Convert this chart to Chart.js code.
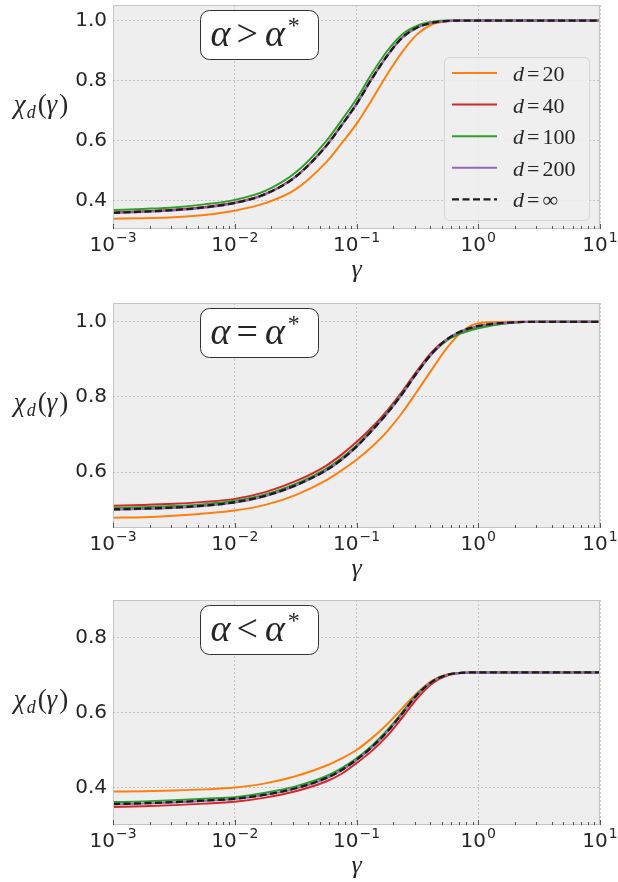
<!DOCTYPE html>
<html>
<head>
<meta charset="utf-8">
<script src="https://cdn.jsdelivr.net/npm/chart.js@4.4.1/dist/chart.umd.min.js"></script>
<style>
  html, body { margin: 0; padding: 0; background: #fff; }
  #wrap { position: relative; width: 618px; height: 882px; }
  .panel { position: absolute; left: 0; width: 618px; }
  canvas { display: block; }
</style>
</head>
<body>
<div id="wrap">
  <div class="panel" style="top:0px;height:290px"><canvas id="c1" width="618" height="290"></canvas></div>
  <div class="panel" style="top:290px;height:300px"><canvas id="c2" width="618" height="300"></canvas></div>
  <div class="panel" style="top:590px;height:292px"><canvas id="c3" width="618" height="292"></canvas></div>
</div>
<script>
// gamma grid (x)
const gammaValues = [0.001, 0.00178, 0.00316, 0.00562, 0.01, 0.0178, 0.0316, 0.0562, 0.075, 0.1, 0.133, 0.178, 0.237, 0.316, 0.422, 0.562, 0.75, 1, 1.78, 3.16, 5.62, 10];
const xTickValues = [0.001, 0.01, 0.1, 1, 10];
const xTickExponents = ['\u22123', '\u22122', '\u22121', '0', '1'];
const seriesLabels = ['20', '40', '100', '200', '\u221e'];
const seriesColors = ['#ff7f0e', '#d62728', '#2ca02c', '#9467bd', '#1c1c1c'];

// alpha > alpha*
const aboveD20 = [0.340, 0.342, 0.345, 0.353, 0.367, 0.392, 0.438, 0.528, 0.590, 0.656, 0.735, 0.820, 0.895, 0.955, 0.988, 0.998, 1.0, 1.0, 1.0, 1.0, 1.0, 1.0];
const aboveD40 = [0.361, 0.365, 0.370, 0.379, 0.394, 0.423, 0.481, 0.583, 0.651, 0.723, 0.806, 0.883, 0.944, 0.978, 0.993, 0.999, 1.0, 1.0, 1.0, 1.0, 1.0, 1.0];
const aboveD100 = [0.369, 0.373, 0.378, 0.388, 0.403, 0.433, 0.494, 0.598, 0.667, 0.739, 0.822, 0.898, 0.954, 0.983, 0.996, 1.0, 1.0, 1.0, 1.0, 1.0, 1.0, 1.0];
const aboveD200 = [0.359, 0.363, 0.368, 0.377, 0.392, 0.421, 0.479, 0.581, 0.649, 0.721, 0.804, 0.881, 0.942, 0.977, 0.993, 0.999, 1.0, 1.0, 1.0, 1.0, 1.0, 1.0];
const aboveDInf = [0.360, 0.364, 0.369, 0.378, 0.393, 0.422, 0.480, 0.582, 0.650, 0.722, 0.805, 0.882, 0.943, 0.977, 0.993, 0.999, 1.0, 1.0, 1.0, 1.0, 1.0, 1.0];

// alpha = alpha*
const equalD20 = [0.479, 0.480, 0.484, 0.490, 0.498, 0.513, 0.539, 0.578, 0.604, 0.633, 0.667, 0.708, 0.758, 0.816, 0.876, 0.933, 0.976, 0.996, 1.0, 1.0, 1.0, 1.0];
const equalD40 = [0.511, 0.513, 0.516, 0.521, 0.529, 0.547, 0.576, 0.617, 0.646, 0.680, 0.718, 0.763, 0.814, 0.871, 0.922, 0.955, 0.974, 0.985, 0.997, 1.0, 1.0, 1.0];
const equalD100 = [0.505, 0.507, 0.510, 0.515, 0.524, 0.541, 0.569, 0.609, 0.637, 0.671, 0.712, 0.758, 0.810, 0.866, 0.917, 0.952, 0.971, 0.983, 0.997, 1.0, 1.0, 1.0];
const equalD200 = [0.500, 0.502, 0.505, 0.510, 0.519, 0.536, 0.564, 0.604, 0.632, 0.667, 0.709, 0.755, 0.807, 0.865, 0.917, 0.955, 0.977, 0.989, 0.998, 1.0, 1.0, 1.0];
const equalDInf = [0.501, 0.503, 0.506, 0.511, 0.520, 0.537, 0.565, 0.605, 0.633, 0.668, 0.710, 0.756, 0.808, 0.866, 0.918, 0.955, 0.977, 0.989, 0.998, 1.0, 1.0, 1.0];

// alpha < alpha*
const belowD20 = [0.389, 0.390, 0.392, 0.395, 0.400, 0.411, 0.430, 0.458, 0.477, 0.500, 0.531, 0.568, 0.611, 0.653, 0.686, 0.702, 0.706, 0.707, 0.707, 0.707, 0.707, 0.707];
const belowD40 = [0.348, 0.350, 0.353, 0.357, 0.362, 0.373, 0.390, 0.416, 0.436, 0.465, 0.497, 0.537, 0.586, 0.638, 0.678, 0.699, 0.706, 0.707, 0.707, 0.707, 0.707, 0.707];
const belowD100 = [0.361, 0.363, 0.366, 0.370, 0.374, 0.386, 0.403, 0.430, 0.451, 0.478, 0.511, 0.552, 0.600, 0.650, 0.684, 0.701, 0.706, 0.707, 0.707, 0.707, 0.707, 0.707];
const belowD200 = [0.355, 0.357, 0.360, 0.364, 0.369, 0.380, 0.397, 0.424, 0.445, 0.473, 0.506, 0.547, 0.596, 0.647, 0.683, 0.701, 0.706, 0.707, 0.707, 0.707, 0.707, 0.707];
const belowDInf = [0.356, 0.358, 0.361, 0.365, 0.370, 0.381, 0.398, 0.425, 0.446, 0.474, 0.507, 0.548, 0.597, 0.648, 0.683, 0.701, 0.706, 0.707, 0.707, 0.707, 0.707, 0.707];

const aboveYTicks = [0.4, 0.6, 0.8, 1.0];
const equalYTicks = [0.6, 0.8, 1.0];
const belowYTicks = [0.4, 0.6, 0.8];

const panels = [
  { id: 'c1', rel: '>', series: [aboveD20, aboveD40, aboveD100, aboveD200, aboveDInf], yMin: 0.306, yMax: 1.052, yTicks: aboveYTicks, padTop: 5, xHeight: 61, legend: true },
  { id: 'c2', rel: '=', series: [equalD20, equalD40, equalD100, equalD200, equalDInf], yMin: 0.4515, yMax: 1.05, yTicks: equalYTicks, padTop: 13, xHeight: 62, legend: false },
  { id: 'c3', rel: '<', series: [belowD20, belowD40, belowD100, belowD200, belowDInf], yMin: 0.30, yMax: 0.90, yTicks: belowYTicks, padTop: 10, xHeight: 57, legend: false },
];

const TEXT = '#262626';
const SERIF = '"Liberation Serif", "DejaVu Serif", serif';
const SANS = '"DejaVu Sans", sans-serif';

function drawParts(ctx, parts, x, y, align) {
  let w = 0;
  parts.forEach(p => { ctx.font = p.font; p.w = ctx.measureText(p.t).width + (p.gap || 0); w += p.w; });
  let cx = align === 'center' ? x - w / 2 : x;
  parts.forEach(p => { ctx.font = p.font; ctx.fillText(p.t, cx, y + (p.dy || 0)); cx += p.w; });
}

function roundRect(ctx, x, y, w, h, r) {
  ctx.beginPath();
  ctx.moveTo(x + r, y);
  ctx.arcTo(x + w, y, x + w, y + h, r);
  ctx.arcTo(x + w, y + h, x, y + h, r);
  ctx.arcTo(x, y + h, x, y, r);
  ctx.arcTo(x, y, x + w, y, r);
  ctx.closePath();
}

const decor = {
  id: 'decor',
  beforeDraw(chart) {
    const { ctx, chartArea: a } = chart;
    ctx.save();
    ctx.fillStyle = '#eeeeee';
    ctx.fillRect(a.left, a.top, a.right - a.left, a.bottom - a.top);
    ctx.restore();
  },
  afterDraw(chart, args, opts) {
    const { ctx, chartArea: a } = chart;
    const xs = chart.scales.x;
    ctx.save();

    // frame
    ctx.strokeStyle = '#c4c4c4';
    ctx.lineWidth = 1;
    ctx.strokeRect(a.left + 0.5, a.top + 0.5, a.right - a.left - 1, a.bottom - a.top - 1);

    // x ticks inside the bottom edge
    ctx.strokeStyle = '#555555';
    ctx.lineWidth = 1;
    xTickValues.forEach((d, i) => {
      for (let k = 1; k <= 9; k++) {
        if (i === xTickValues.length - 1 && k > 1) break;
        const px = Math.round(xs.getPixelForValue(d * k)) + 0.5;
        const len = k === 1 ? 5 : 3;
        ctx.beginPath();
        ctx.moveTo(px, a.bottom);
        ctx.lineTo(px, a.bottom - len);
        ctx.stroke();
      }
    });

    // x tick labels 10^n
    ctx.fillStyle = TEXT;
    ctx.textBaseline = 'alphabetic';
    xTickValues.forEach((v, i) => {
      const px = xs.getPixelForValue(v);
      drawParts(ctx, [
        { t: '10', font: '20px ' + SANS, gap: 1 },
        { t: xTickExponents[i], font: '14px ' + SANS, dy: -9 },
      ], px, a.bottom + 22, 'center');
    });

    // x axis label
    drawParts(ctx, [{ t: '\u03b3', font: 'italic 26px ' + SERIF }], (a.left + a.right) / 2, a.bottom + 48, 'center');

    // y axis label chi_d(gamma)
    drawParts(ctx, [
      { t: '\u03c7', font: 'italic 27px ' + SERIF, gap: 1 },
      { t: 'd', font: 'italic 18px ' + SERIF, dy: 5, gap: 2 },
      { t: '(', font: '27px ' + SERIF },
      { t: '\u03b3', font: 'italic 27px ' + SERIF, gap: 2 },
      { t: ')', font: '27px ' + SERIF },
    ], 41, a.top + 108, 'center');

    // annotation box
    const bx = 200.5, by = a.top + 5.5, bw = 118, bh = 49;
    roundRect(ctx, bx, by, bw, bh, 9);
    ctx.fillStyle = '#ffffff';
    ctx.fill();
    ctx.strokeStyle = '#333333';
    ctx.lineWidth = 1;
    ctx.stroke();
    ctx.fillStyle = TEXT;
    drawParts(ctx, [
      { t: '\u03b1', font: 'italic 38px ' + SERIF, gap: 6 },
      { t: opts.rel, font: '38px ' + SERIF, gap: 7 },
      { t: '\u03b1', font: 'italic 38px ' + SERIF, gap: 3 },
      { t: '*', font: '24px ' + SERIF, dy: -13 },
    ], bx + 10, a.top + 41, 'left');

    // legend
    if (opts.legend) {
      const lx = 444.5, ly = a.top + 52.5, lw = 145, lh = 163;
      roundRect(ctx, lx, ly, lw, lh, 5);
      ctx.fillStyle = 'rgba(238,238,238,0.85)';
      ctx.fill();
      ctx.strokeStyle = '#d6d6d6';
      ctx.stroke();
      chart.data.datasets.forEach((ds, i) => {
        const cy = a.top + 68 + i * 31.6;
        ctx.save();
        ctx.strokeStyle = ds.borderColor;
        ctx.lineWidth = ds.borderWidth;
        ctx.setLineDash(ds.borderDash || []);
        ctx.beginPath();
        ctx.moveTo(452, cy);
        ctx.lineTo(497, cy);
        ctx.stroke();
        ctx.restore();
        ctx.fillStyle = TEXT;
        drawParts(ctx, [
          { t: 'd', font: 'italic 22px ' + SERIF, gap: 3 },
          { t: '=', font: '22px ' + SERIF, gap: 3 },
          { t: seriesLabels[i], font: '22px ' + SERIF },
        ], 513, cy + 8, 'left');
      });
    }
    ctx.restore();
  }
};

const gridStyle = { color: '#b9b9b9', lineWidth: 0.8, drawTicks: false };
const borderStyle = { display: false, dash: [2, 2] };

panels.forEach(p => {
  const datasets = p.series.map((vals, i) => ({
    label: 'd = ' + seriesLabels[i],
    data: gammaValues.map((g, j) => ({ x: g, y: vals[j] })),
    borderColor: seriesColors[i],
    borderWidth: i === 4 ? 2.3 : 2,
    borderDash: i === 4 ? [7, 3.5] : [],
    order: 5 - i,
    fill: false,
  }));
  new Chart(document.getElementById(p.id), {
    type: 'line',
    data: { datasets },
    plugins: [decor],
    options: {
      responsive: false,
      animation: false,
      devicePixelRatio: 1,
      layout: { padding: { left: 0, right: 18, top: p.padTop, bottom: 0 } },
      elements: { point: { radius: 0 }, line: { cubicInterpolationMode: 'monotone' } },
      plugins: {
        legend: { display: false },
        tooltip: { enabled: false },
        decor: { rel: p.rel, legend: p.legend },
      },
      scales: {
        x: {
          type: 'logarithmic', min: 0.001, max: 10,
          afterBuildTicks: s => { s.ticks = xTickValues.map(v => ({ value: v })); },
          afterFit: s => { s.height = p.xHeight; s.paddingLeft = 0; s.paddingRight = 0; },
          ticks: { display: false },
          grid: gridStyle, border: borderStyle,
        },
        y: {
          type: 'linear', min: p.yMin, max: p.yMax,
          afterBuildTicks: s => { s.ticks = p.yTicks.map(v => ({ value: v })); },
          afterFit: s => { s.width = 113; s.paddingTop = 0; s.paddingBottom = 0; },
          ticks: { font: { family: 'DejaVu Sans', size: 20 }, color: TEXT, padding: 6, callback: v => v.toFixed(1) },
          grid: gridStyle, border: borderStyle,
        },
      },
    },
  });
});
</script>
</body>
</html>
